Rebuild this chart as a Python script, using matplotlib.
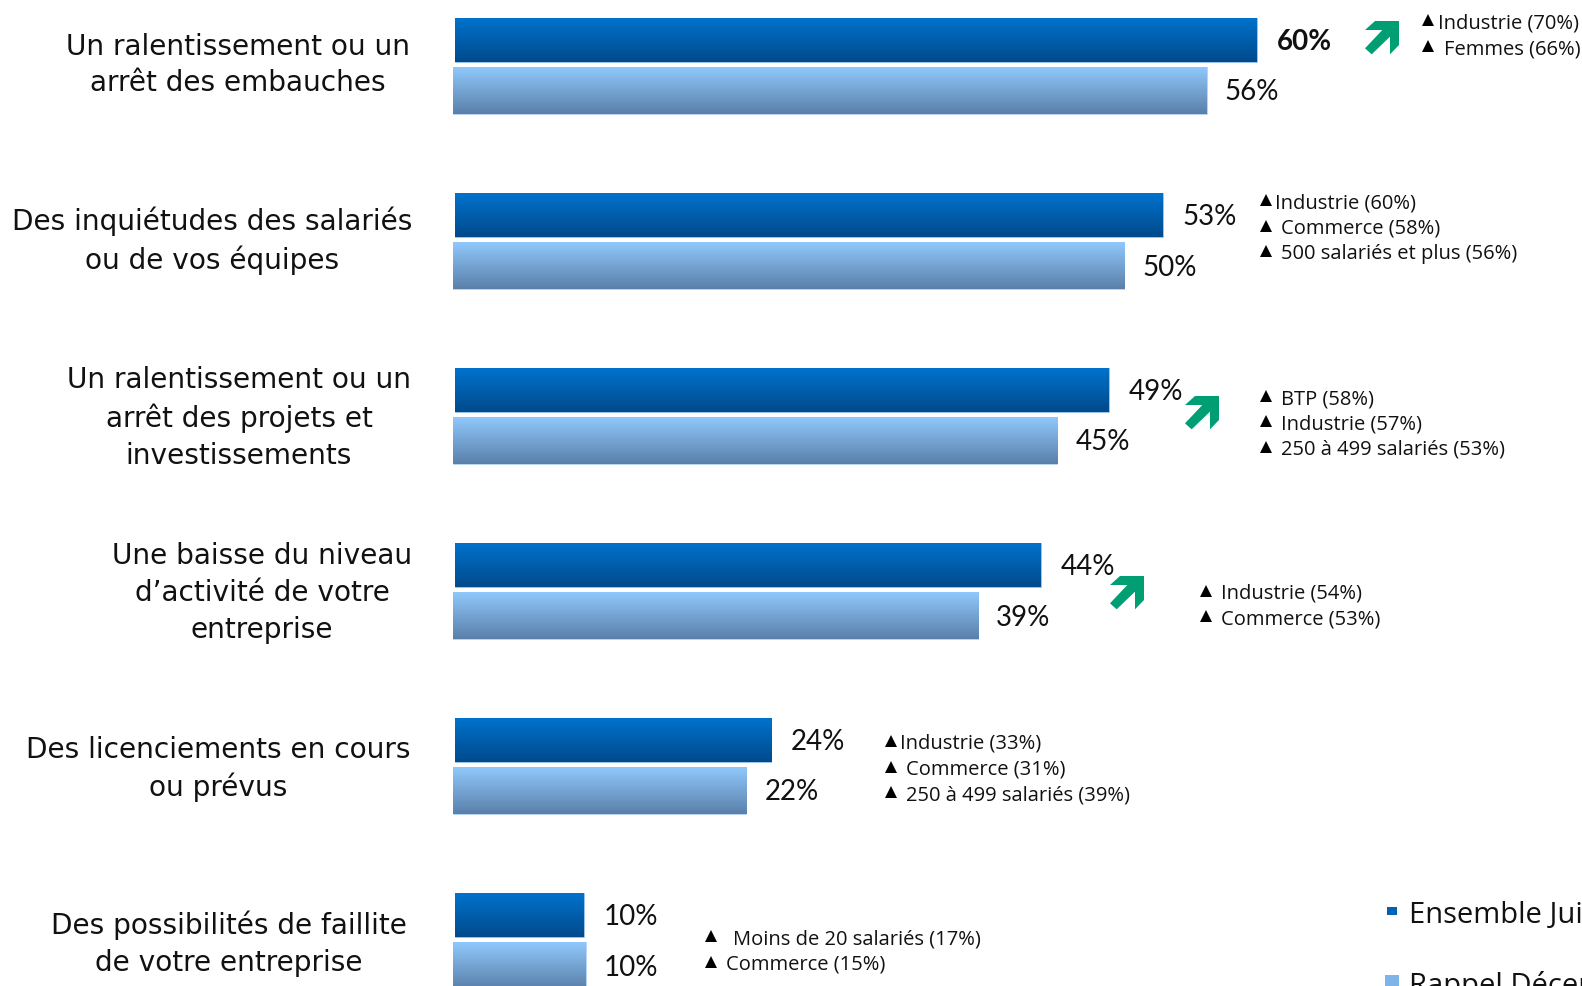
import numpy as np
import matplotlib
matplotlib.use("Agg")
import matplotlib.pyplot as plt
from matplotlib.patches import Polygon
from matplotlib.transforms import Affine2D

W, H = 1582, 986

# values
categories = [
    "Un ralentissement ou un\narrêt des embauches",
    "Des inquiétudes des salariés\nou de vos équipes",
    "Un ralentissement ou un\narrêt des projets et\ninvestissements",
    "Une baisse du niveau\nd’activité de votre\nentreprise",
    "Des licenciements en cours\nou prévus",
    "Des possibilités de faillite\nde votre entreprise",
]
juin = [59.85, 52.8, 48.8, 43.7, 23.6, 9.6]
decembre = [56.25, 50.1, 45.1, 39.2, 21.9, 9.9]
juin_labels = ["60%", "53%", "49%", "44%", "24%", "10%"]
decembre_labels = ["56%", "50%", "45%", "39%", "22%", "10%"]

notes = [
    ["Industrie (70%)", "Femmes (66%)"],
    ["Industrie (60%)", "Commerce (58%)", "500 salariés et plus (56%)"],
    ["BTP (58%)", "Industrie (57%)", "250 à 499 salariés (53%)"],
    ["Industrie (54%)", "Commerce (53%)"],
    ["Industrie (33%)", "Commerce (31%)", "250 à 499 salariés (39%)"],
    ["Moins de 20 salariés (17%)", "Commerce (15%)"],
]
# pixel layout of the side notes: triangle x, text x per line, first line y, line step
note_tri_x = [1428, 1266, 1266, 1206, 891, 711]
note_text_x = [[1438, 1444], [1275, 1281, 1281], [1281, 1281, 1281], [1221, 1221], [900, 906, 906], [733, 726]]
note_y = [23, 203, 399, 594, 744, 939]
note_step = [26, 25.5, 25.3, 25, 25.5, 25.5]

label_cx = [238, 212, 239, 262, 218, 229]
label_cy = [65, 241, 418, 593, 769, 944]
arrow_corners = [(1399, 21), (1219, 396), (1144, 576)]
arrow_shape = np.array([(0, 0), (-72, 0), (-102, 27), (-50, 27), (-102, 82), (-82, 100),
                        (-27, 47), (-27, 100), (0, 72)]) / 3.0

PX_PER_PCT = 13.4
PITCH = 175.0
X0, Y0 = 453, 64

fig = plt.figure(figsize=(W / 100, H / 100), dpi=100, facecolor="white")
ax = fig.add_axes([0, 0, 1, 1])
ax.axis("off")
px = Affine2D().scale(1, -1).translate(0, H)  # pixels from top left


def gradient_fill(bar, top, bottom):
    c0 = np.array(matplotlib.colors.to_rgb(top))
    c1 = np.array(matplotlib.colors.to_rgb(bottom))
    t = np.linspace(0, 1, 64)[:, None, None]
    img = c0[None, None, :] * (1 - t) + c1[None, None, :] * t
    x, y = bar.get_x(), bar.get_y()
    im = ax.imshow(img, extent=(x, x + bar.get_width(), y + bar.get_height(), y),
                   aspect="auto", zorder=2, interpolation="bilinear")
    im.set_clip_path(bar)


y = np.arange(len(categories))
dark = ax.barh(y - 24 / PITCH, juin, height=44 / PITCH, left=2 / PX_PER_PCT,
               color="#0060b0", edgecolor="#a8cdf0", linewidth=0.5)
light = ax.barh(y + 26.5 / PITCH, decembre, height=47 / PITCH,
                color="#7fb0e0", edgecolor="#b5d5f5", linewidth=0.5)
for b in dark:
    gradient_fill(b, "#0072cc", "#004a8c")
for b in light:
    gradient_fill(b, "#90c8fc", "#5a80aa")

ax.set_xlim(-X0 / PX_PER_PCT, (W - X0) / PX_PER_PCT)
ax.set_ylim((H - Y0) / PITCH, -Y0 / PITCH)

num_font = "Lato"
for i in y:
    ax.annotate(juin_labels[i], (juin[i] + 2 / PX_PER_PCT, i - 24 / PITCH), xytext=(20 * 0.72, -2 * 0.72),
                textcoords="offset points", va="center", fontsize=20, family=num_font,
                fontweight="bold" if i == 0 else "normal", color="#111111", zorder=3)
    ax.annotate(decembre_labels[i], (decembre[i], i + 26.5 / PITCH), xytext=(18 * 0.72, -2 * 0.72),
                textcoords="offset points", va="center", fontsize=20, family=num_font,
                color="#111111", zorder=3)

for i, label in enumerate(categories):
    ax.text(label_cx[i], label_cy[i], label, transform=px, ha="center", va="center",
            multialignment="center", fontsize=20.2, family="DejaVu Sans", linespacing=1.4,
            color="#111111")

for i, lines in enumerate(notes):
    for j, line in enumerate(lines):
        yy = note_y[i] + j * note_step[i]
        ax.plot([note_tri_x[i]], [yy - 3], marker="^", ms=9, color="black", mew=0, transform=px,
                clip_on=False, zorder=3)
        ax.text(note_text_x[i][j], yy, line, transform=px, ha="left", va="center",
                fontsize=14.5, family="Open Sans", color="#111111")

for cx, cy in arrow_corners:
    ax.add_patch(Polygon(arrow_shape + [cx, cy], closed=True, facecolor="#009e73", edgecolor="none",
                         transform=px, zorder=4))

# legend runs off the slide on the right
ax.add_patch(plt.Rectangle((1387, 907), 10, 8, facecolor="#0062b4", transform=px, zorder=3))
ax.add_patch(plt.Rectangle((1385, 975), 14, 14, facecolor="#7fb4e8", transform=px, zorder=3))
ax.text(1409, 916, "Ensemble Juin", transform=px, ha="left", va="center", fontsize=21,
        family="Open Sans", color="#111111")
ax.text(1409, 986, "Rappel Décembre", transform=px, ha="left", va="center", fontsize=21,
        family="Open Sans", color="#111111")

fig.savefig("out.png", dpi=100)
